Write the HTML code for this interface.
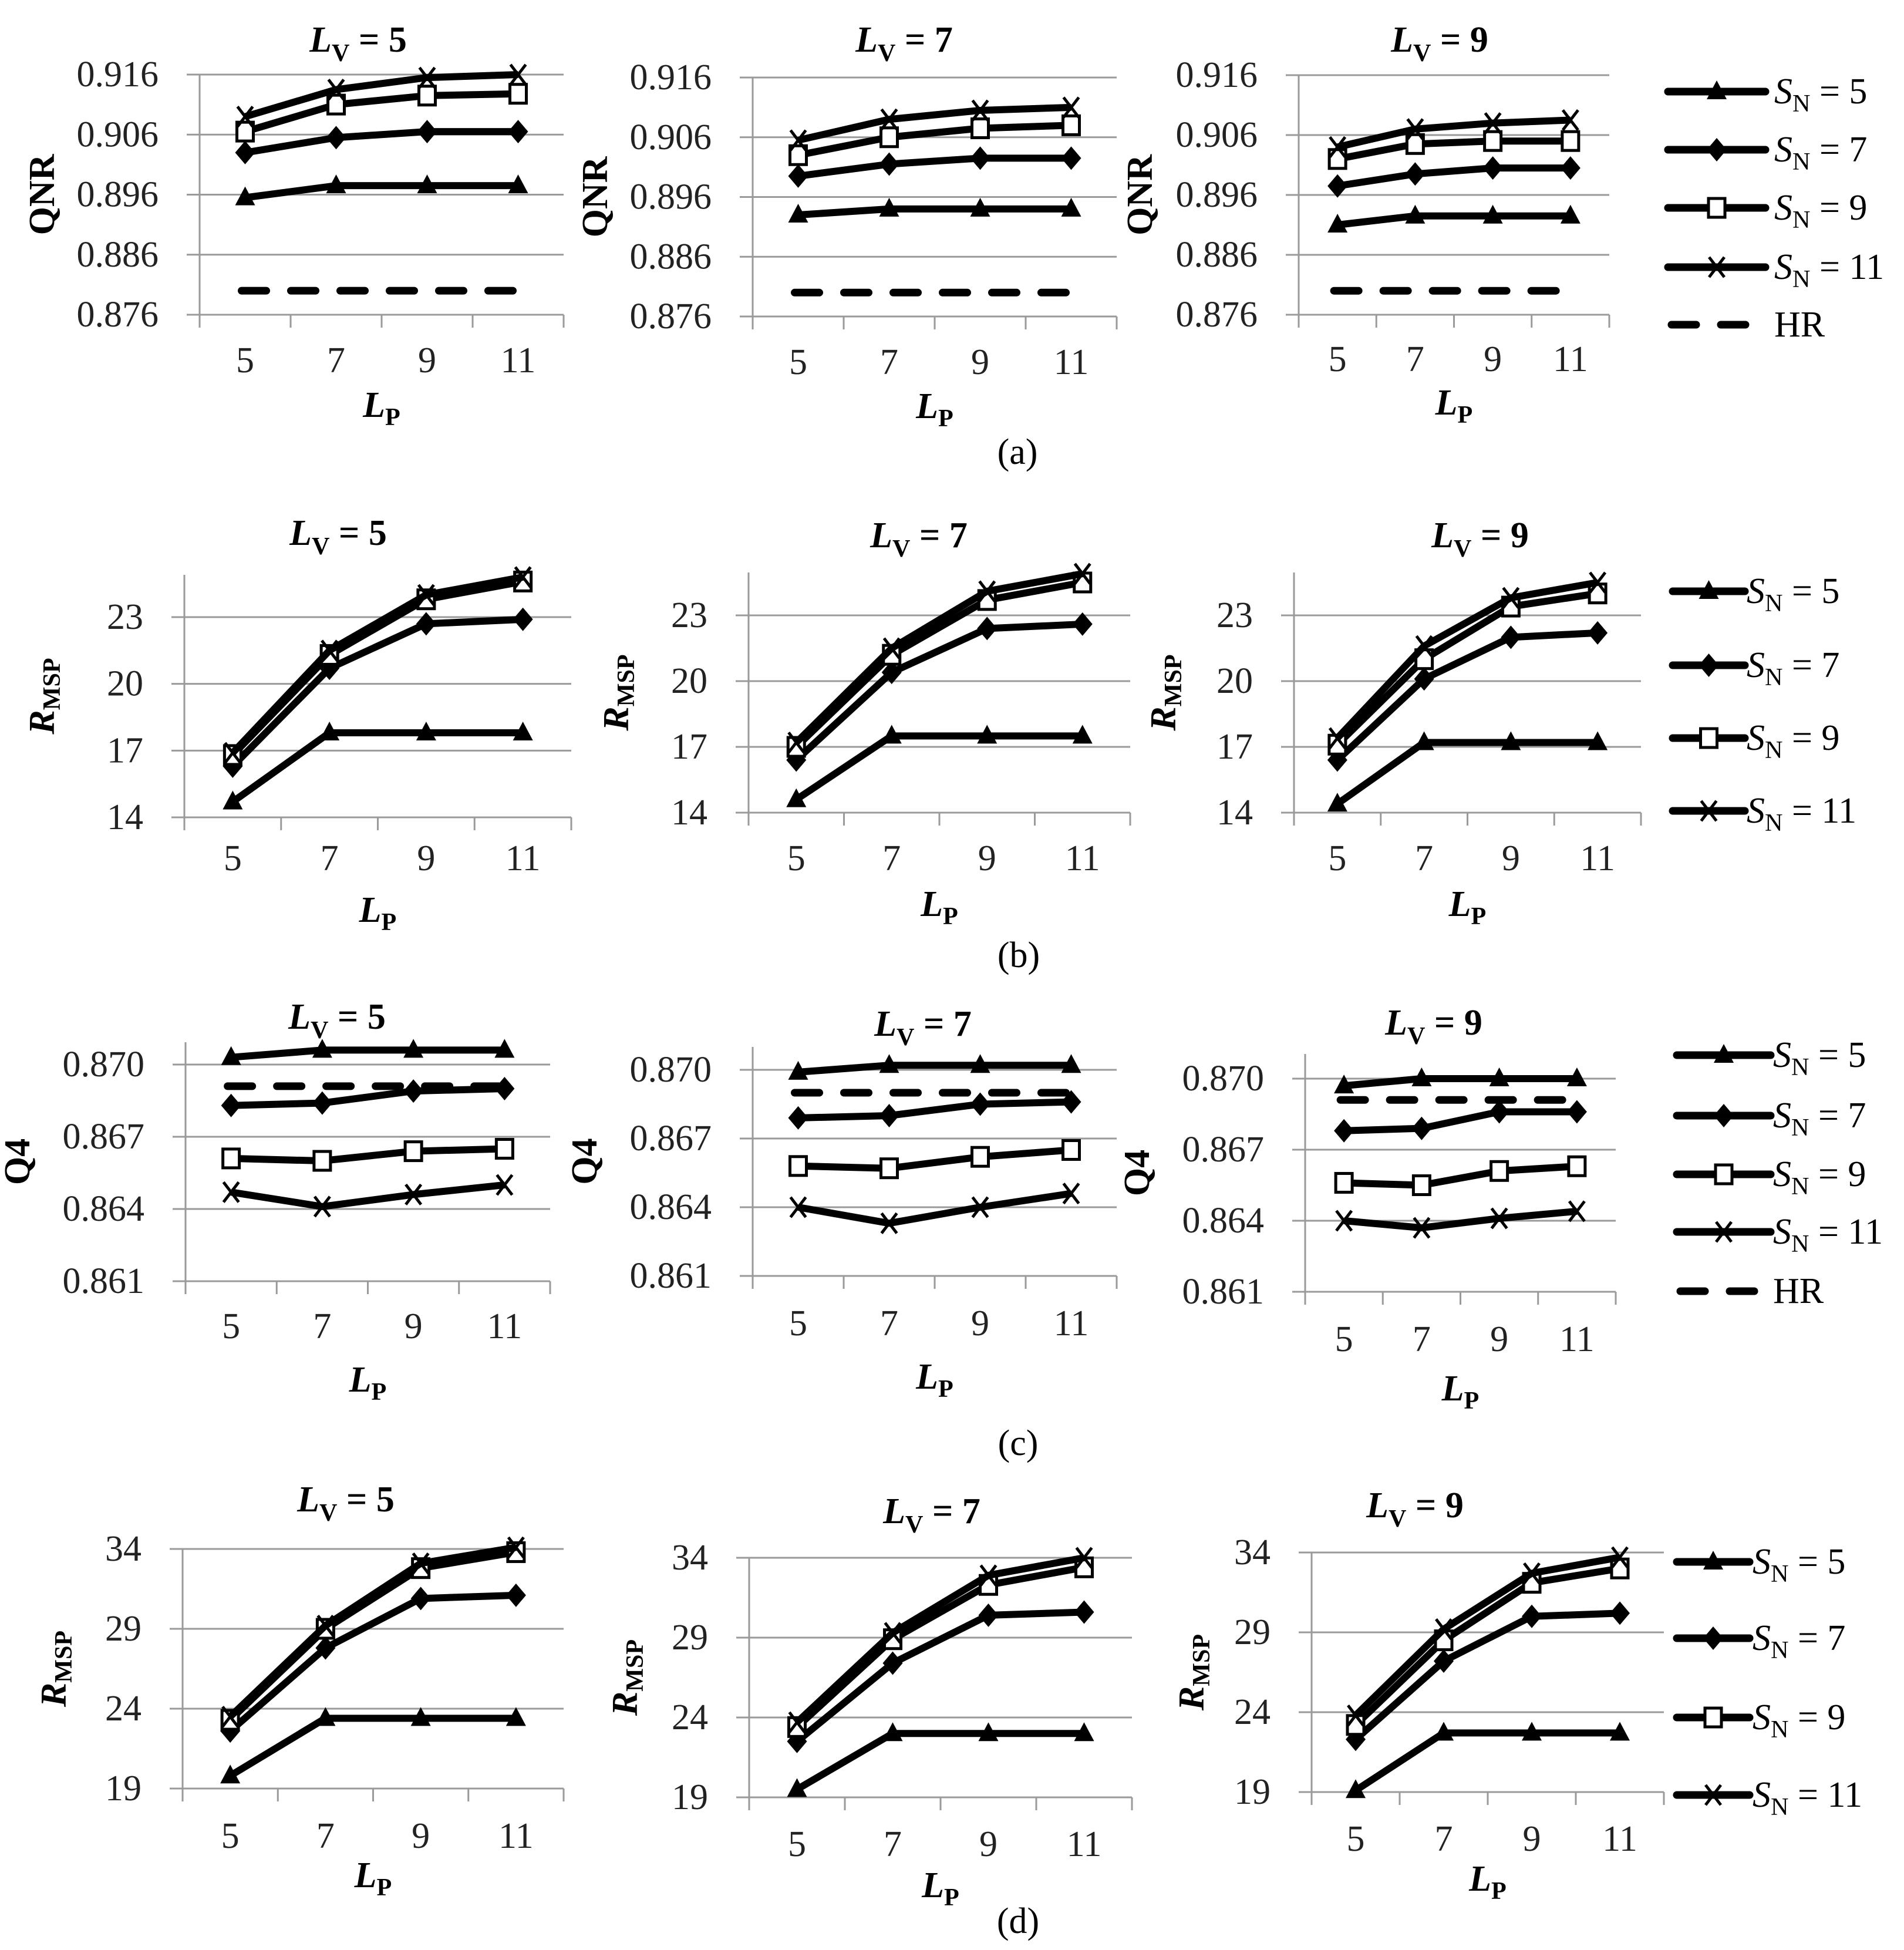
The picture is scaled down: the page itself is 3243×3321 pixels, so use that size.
<!DOCTYPE html>
<html><head><meta charset="utf-8"><style>
html,body{margin:0;padding:0;background:#fff;}
svg{display:block;font-family:"Liberation Serif",serif;}
</style></head><body>
<svg id="fig" width="3243" height="3321" viewBox="0 0 3243 3321" xmlns="http://www.w3.org/2000/svg"></svg>
<script>
const categories = ["5","7","9","11"];
const seriesNames = ["SN5","SN7","SN9","SN11"];
// (a) QNR
const qnrTicks = [0.876,0.886,0.896,0.906,0.916];
const a1_SN5=[0.8955,0.8975,0.8975,0.8975], a1_SN7=[0.903,0.9055,0.9065,0.9065], a1_SN9=[0.9065,0.911,0.9125,0.9128], a1_SN11=[0.909,0.9135,0.9155,0.916], a1_HR=0.880;
const a2_SN5=[0.893,0.894,0.894,0.894], a2_SN7=[0.8995,0.9015,0.9025,0.9025], a2_SN9=[0.903,0.906,0.9075,0.908], a2_SN11=[0.9055,0.909,0.9105,0.911], a2_HR=0.880;
const a3_SN5=[0.891,0.8925,0.8925,0.8925], a3_SN7=[0.8975,0.8995,0.9005,0.9005], a3_SN9=[0.902,0.9045,0.905,0.905], a3_SN11=[0.904,0.907,0.908,0.9085], a3_HR=0.880;
// (b) RMSP
const bTicks = [14,17,20,23];
const b1_SN5=[14.7,17.8,17.8,17.8], b1_SN7=[16.3,20.7,22.7,22.9], b1_SN9=[16.8,21.3,23.8,24.6], b1_SN11=[16.9,21.5,24.0,24.8];
const b2_SN5=[14.6,17.5,17.5,17.5], b2_SN7=[16.4,20.4,22.4,22.6], b2_SN9=[17.0,21.2,23.7,24.5], b2_SN11=[17.2,21.5,24.1,24.9];
const b3_SN5=[14.4,17.2,17.2,17.2], b3_SN7=[16.4,20.1,22.0,22.2], b3_SN9=[17.1,21.0,23.4,24.0], b3_SN11=[17.4,21.6,23.8,24.5];
// (c) Q4
const cTicks = [0.861,0.864,0.867,0.870];
const c1_SN5=[0.8703,0.8706,0.8706,0.8706], c1_SN7=[0.8683,0.8684,0.8689,0.8690], c1_SN9=[0.8661,0.8660,0.8664,0.8665], c1_SN11=[0.8647,0.8641,0.8646,0.8650], c1_HR=0.8691;
const c2_SN5=[0.8699,0.8702,0.8702,0.8702], c2_SN7=[0.8679,0.8680,0.8685,0.8686], c2_SN9=[0.8658,0.8657,0.8662,0.8665], c2_SN11=[0.8640,0.8633,0.8640,0.8646], c2_HR=0.8690;
const c3_SN5=[0.8697,0.8700,0.8700,0.8700], c3_SN7=[0.8678,0.8679,0.8686,0.8686], c3_SN9=[0.8656,0.8655,0.8661,0.8663], c3_SN11=[0.8640,0.8637,0.8641,0.8644], c3_HR=0.8691;
// (d) RMSP
const dTicks = [19,24,29,34];
const d1_SN5=[19.8,23.4,23.4,23.4], d1_SN7=[22.6,27.8,30.9,31.1], d1_SN9=[23.3,29.0,32.8,33.8], d1_SN11=[23.5,29.2,33.1,34.1];
const d2_SN5=[19.5,23.0,23.0,23.0], d2_SN7=[22.5,27.4,30.4,30.6], d2_SN9=[23.4,28.9,32.3,33.4], d2_SN11=[23.7,29.3,32.9,34.0];
const d3_SN5=[19.1,22.7,22.7,22.7], d3_SN7=[22.3,27.2,30.0,30.2], d3_SN9=[23.2,28.5,32.1,33.0], d3_SN11=[23.8,29.2,32.7,33.7];

const NS="http://www.w3.org/2000/svg";
const svg=document.getElementById('fig');
function mk(tag,attrs,parent){const e=document.createElementNS(NS,tag);for(const k in attrs)e.setAttribute(k,attrs[k]);(parent||svg).appendChild(e);return e;}

function marker(g,type,x,y){
  let m;
  if(type==="SN5"){m=mk('polygon',{points:`${x},${y-19} ${x+17},${y+13} ${x-17},${y+13}`,fill:'#000'},g);}
  else if(type==="SN7"){m=mk('polygon',{points:`${x},${y-20} ${x+17},${y} ${x},${y+20} ${x-17},${y}`,fill:'#000'},g);}
  else if(type==="SN9"){m=mk('rect',{x:x-14,y:y-16,width:28,height:32,fill:'#fff',stroke:'#000','stroke-width':5},g);}
  else {m=mk('path',{d:`M${x-13},${y-17}L${x+13},${y+17}M${x+13},${y-17}L${x-13},${y+17}`,stroke:'#000','stroke-width':5,fill:'none'},g);}
  
  
}

function subText(parent,x,y,main,sub,opts){
  const t=mk('text',{x:x,y:y,'font-size':opts.size||62,'text-anchor':opts.anchor||'middle','font-weight':opts.bold?'bold':'normal'},parent);
  const a=mk('tspan',{'font-style':'italic'},t);a.textContent=main;
  const b=mk('tspan',{'font-size':(opts.size||62)*0.68,dy:opts.subdy||14},t);b.textContent=sub;
  if(opts.rest){const c=mk('tspan',{dy:-(opts.subdy||14)},t);c.textContent=opts.rest;}
  return t;
}

function chart(id,c,data,hr){
  const g=mk('g',{});
  
  
  const t0=c.ticks[0],t1=c.ticks[c.ticks.length-1];
  const ys=v=>c.y0+(v-t0)*(c.y1-c.y0)/(t1-t0);
  const cw=(c.R-c.L)/categories.length;
  const xs=i=>c.L+cw*(i+0.5);
  // gridlines & tick labels
  c.ticks.forEach(v=>{
    const y=ys(v);
    const gl=mk('line',{x1:c.L-22,x2:c.R,y1:y,y2:y,stroke:'#9a9a9a','stroke-width':3},g);
    
    
    const tl=mk('text',{x:c.L-70,y:y+20,'font-size':62,'text-anchor':'end',fill:'#222'},g);
    tl.textContent=c.fmt(v);
    
    
  });
  const ax=mk('line',{x1:c.L,x2:c.L,y1:c.top,y2:ys(t0)+22,stroke:'#9a9a9a','stroke-width':3},g);
  
  
  for(let i=1;i<=categories.length;i++){
    const tk=mk('line',{x1:c.L+cw*i,x2:c.L+cw*i,y1:ys(t0),y2:ys(t0)+22,stroke:'#9a9a9a','stroke-width':3},g);
    
    
  }
  categories.forEach((cat,i)=>{
    const tl=mk('text',{x:xs(i),y:c.tickY+22,'font-size':62,'text-anchor':'middle',fill:'#222'},g);
    tl.textContent=cat;
    
    
  });
  // HR
  if(hr!==undefined){
    const y=ys(hr);
    const l=mk('line',{x1:xs(0)-6,x2:xs(3)+4,y1:y,y2:y,stroke:'#000','stroke-width':13,'stroke-dasharray':'42 42','stroke-linecap':'round'},g);
    
    
  }
  // series
  seriesNames.forEach((s,si)=>{
    const vals=data[si];
    const pts=vals.map((v,i)=>xs(i)+','+ys(v)).join(' ');
    const pl=mk('polyline',{points:pts,fill:'none',stroke:'#000','stroke-width':12,'stroke-linejoin':'round'},g);
    
    
    vals.forEach((v,i)=>marker(g,s,xs(i),ys(v)));
  });
  // title
  const tt=subText(g,c.tx,c.ty+22,'L','V',{bold:true,rest:' = '+c.lv,subdy:16});
  
  
  // x label
  const xl=subText(g,(c.L+c.R)/2,c.lpY+20,'L','P',{bold:true,subdy:14});
  
  
  // y label
  const yg=mk('g',{transform:`translate(${c.ylx},${(c.top+ys(t0))/2}) rotate(-90)`},g);
  let yl;
  if(c.ylab==='R'){yl=subText(yg,0,0,'R','MSP',{bold:true,subdy:10});}
  else{yl=mk('text',{x:0,y:0,'font-size':62,'font-weight':'bold','text-anchor':'middle'},yg);yl.textContent=c.ylab;}
  
  
}

function legend(x1,x2,tx,rows,withHR,id){
  const g=mk('g',{});
  
  
  seriesNames.forEach((s,i)=>{
    const y=rows[i];
    const l=mk('line',{x1:x1,x2:x2,y1:y,y2:y,stroke:'#000','stroke-width':13,'stroke-linecap':'round'},g);
    
    
    marker(g,s,(x1+x2)/2,y);
    const t=subText(g,tx,y+20,'S','N',{anchor:'start',rest:' = '+s.slice(2),subdy:14});
    
    
  });
  if(withHR){
    const y=rows[4];
    const l=mk('line',{x1:x1+6,x2:x2-6,y1:y,y2:y,stroke:'#000','stroke-width':13,'stroke-dasharray':'42 42','stroke-linecap':'round'},g);
    
    
    const t=mk('text',{x:tx,y:y+20,'font-size':62},g);t.textContent='HR';
    
    
  }
}
function panelLabel(txt,x,y){
  const t=mk('text',{x:x,y:y+20,'font-size':62,'text-anchor':'middle'});
  t.textContent=txt;
  
  
}
const f3=v=>v.toFixed(3), f0=v=>String(v);

chart('chart-a1',{L:340,R:960,y0:536,y1:127,top:127,ticks:qnrTicks,fmt:f3,tx:610,ty:66,lv:5,tickY:612,lpY:690,ylx:92,ylab:'QNR'},[a1_SN5,a1_SN7,a1_SN9,a1_SN11],a1_HR);
chart('chart-a2',{L:1282,R:1902,y0:539,y1:132,top:132,ticks:qnrTicks,fmt:f3,tx:1540,ty:66,lv:7,tickY:615,lpY:692,ylx:1034,ylab:'QNR'},[a2_SN5,a2_SN7,a2_SN9,a2_SN11],a2_HR);
chart('chart-a3',{L:2212,R:2741,y0:536,y1:128,top:128,ticks:qnrTicks,fmt:f3,tx:2452,ty:66,lv:9,tickY:610,lpY:686,ylx:1962,ylab:'QNR'},[a3_SN5,a3_SN7,a3_SN9,a3_SN11],a3_HR);
legend(2841,3007,3022,[156,255,354,455,553],true,'legend-a');
panelLabel('(a)',1733,770);

chart('chart-b1',{L:314,R:973,y0:1392,y1:1051,top:979,ticks:bTicks,fmt:f0,tx:576,ty:906,lv:5,tickY:1460,lpY:1550,ylx:92,ylab:'R'},[b1_SN5,b1_SN7,b1_SN9,b1_SN11]);
chart('chart-b2',{L:1275,R:1925,y0:1384,y1:1048,top:975,ticks:bTicks,fmt:f0,tx:1565,ty:910,lv:7,tickY:1460,lpY:1540,ylx:1070,ylab:'R'},[b2_SN5,b2_SN7,b2_SN9,b2_SN11]);
chart('chart-b3',{L:2204,R:2795,y0:1384,y1:1048,top:975,ticks:bTicks,fmt:f0,tx:2521,ty:910,lv:9,tickY:1460,lpY:1540,ylx:2002,ylab:'R'},[b3_SN5,b3_SN7,b3_SN9,b3_SN11]);
legend(2849,2972,2975,[1007,1133,1257,1381],false,'legend-b');
panelLabel('(b)',1735,1627);

chart('chart-c1',{L:316,R:937,y0:2182,y1:1813,top:1775,ticks:cTicks,fmt:f3,tx:574,ty:1730,lv:5,tickY:2257,lpY:2350,ylx:50,ylab:'Q4'},[c1_SN5,c1_SN7,c1_SN9,c1_SN11],c1_HR);
chart('chart-c2',{L:1282,R:1902,y0:2173,y1:1822,top:1783,ticks:cTicks,fmt:f3,tx:1572,ty:1742,lv:7,tickY:2252,lpY:2345,ylx:1016,ylab:'Q4'},[c2_SN5,c2_SN7,c2_SN9,c2_SN11],c2_HR);
chart('chart-c3',{L:2223,R:2752,y0:2200,y1:1837,top:1795,ticks:cTicks,fmt:f3,tx:2442,ty:1740,lv:9,tickY:2279,lpY:2365,ylx:1957,ylab:'Q4'},[c3_SN5,c3_SN7,c3_SN9,c3_SN11],c3_HR);
legend(2856,3016,3020,[1797,1900,2000,2098,2199],true,'legend-c');
panelLabel('(c)',1734,2458);

chart('chart-d1',{L:311,R:960,y0:3046,y1:2638,top:2638,ticks:dTicks,fmt:f0,tx:589,ty:2552,lv:5,tickY:3125,lpY:3194,ylx:112,ylab:'R'},[d1_SN5,d1_SN7,d1_SN9,d1_SN11]);
chart('chart-d2',{L:1276,R:1928,y0:3061,y1:2653,top:2653,ticks:dTicks,fmt:f0,tx:1587,ty:2572,lv:7,tickY:3139,lpY:3211,ylx:1085,ylab:'R'},[d2_SN5,d2_SN7,d2_SN9,d2_SN11]);
chart('chart-d3',{L:2234,R:2834,y0:3052,y1:2644,top:2644,ticks:dTicks,fmt:f0,tx:2410,ty:2562,lv:9,tickY:3130,lpY:3200,ylx:2050,ylab:'R'},[d3_SN5,d3_SN7,d3_SN9,d3_SN11]);
legend(2856,2980,2985,[2660,2790,2925,3057],false,'legend-d');
panelLabel('(d)',1734,3272);
</script>
</body></html>
